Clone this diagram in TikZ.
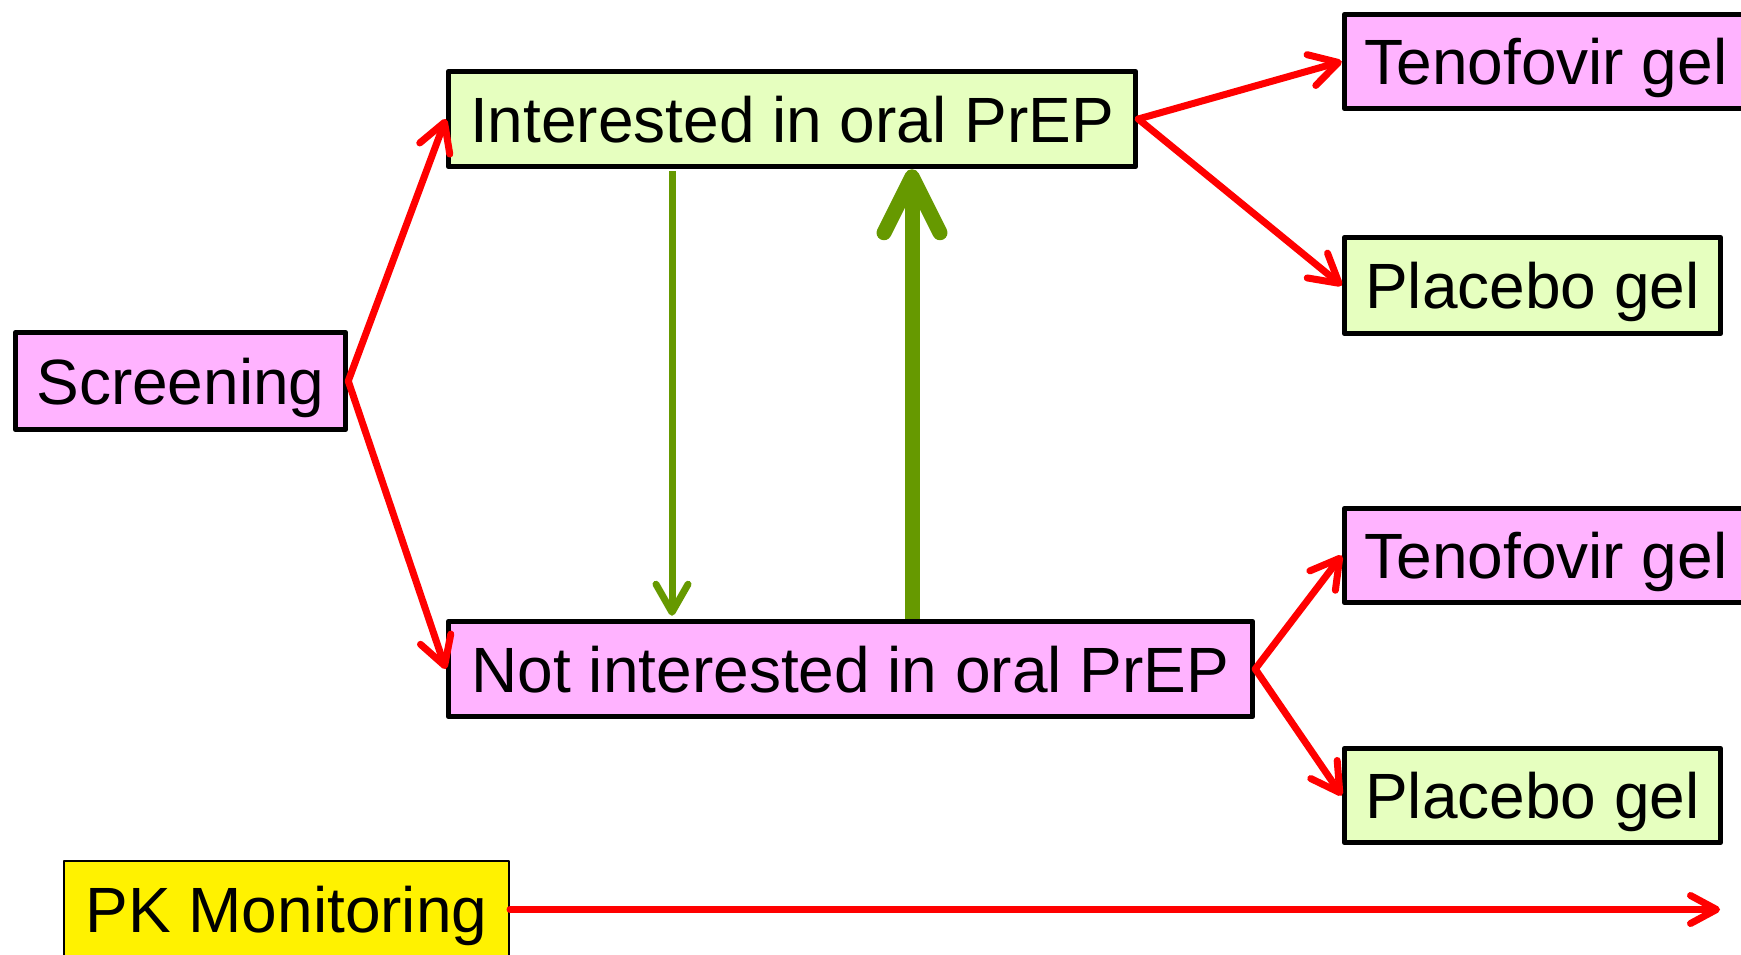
\documentclass[tikz,border=0pt]{standalone}
\usepackage{fontspec}
\setmainfont{Liberation Sans}
\usetikzlibrary{arrows.meta}
\definecolor{boxpink}{HTML}{FFB3FF}
\definecolor{boxgreen}{HTML}{E6FFBF}
\definecolor{arrgreen}{HTML}{669900}
\begin{document}
\begin{tikzpicture}[x=1pt,y=-1pt,
  box/.style={draw=black, line width=5.5pt, line join=round, rectangle, minimum height=95pt, inner sep=0pt,
    font=\fontsize{64}{76}\selectfont, text height=46pt, text depth=0pt},
  pinkbox/.style={box, fill=boxpink},
  greenbox/.style={box, fill=boxgreen},
  redarr/.style={draw=red, line width=7pt, line cap=round, -{Straight Barb[length=28pt,width=32pt,round]}},
  thingreen/.style={draw=arrgreen, line width=7pt, -{Straight Barb[length=28pt,width=32pt,round]}},
  thickgreen/.style={draw=arrgreen, line width=15pt, -{Straight Barb[length=56pt,width=56pt,round]}}
]
\useasboundingbox (0,0) rectangle (1741,954);
\clip (0,0) rectangle (1741,954);

\node[pinkbox, minimum width=330pt, minimum height=97pt] (scr) at (180.5,381) {Screening};
\node[greenbox, minimum width=687pt] (int) at (792,119) {Interested in oral PrEP};
\node[pinkbox, minimum width=804pt] (nint) at (850.5,669) {Not interested in oral PrEP};
\node[pinkbox, minimum width=403pt, minimum height=94pt] (tg1) at (1546,61.5) {Tenofovir gel};
\node[greenbox, minimum width=376pt, minimum height=96pt] (pg1) at (1532.5,285.5) {Placebo gel};
\node[pinkbox, minimum width=403pt, minimum height=94pt] (tg2) at (1546,555.5) {Tenofovir gel};
\node[greenbox, minimum width=376pt, minimum height=94pt] (pg2) at (1532.5,795.5) {Placebo gel};
\node[box, fill=yellow, line width=2pt, minimum width=445pt, minimum height=97pt] (pk) at (286.5,909.5) {PK Monitoring};

\coordinate (pkend) at (1720,909.5);
\coordinate (gx) at (672,0);
\coordinate (tx) at (912,0);

\draw[redarr] (scr.east) -- (int.west);
\draw[redarr] (scr.east) -- (nint.west);
\draw[redarr] (int.east) -- (tg1.west);
\draw[redarr] (int.east) -- (pg1.west);
\draw[redarr] (nint.east) -- (tg2.west);
\draw[redarr] (nint.east) -- (pg2.west);
\draw[redarr, -{Straight Barb[length=26pt,width=28pt,round]}] (pk.east) -- (pkend);

\draw[thingreen, shorten <=2pt, shorten >=3pt] (int.south -| gx) -- (nint.north -| gx);
\draw[thickgreen] (nint.north -| tx) -- (int.south -| tx);
\end{tikzpicture}
\end{document}
